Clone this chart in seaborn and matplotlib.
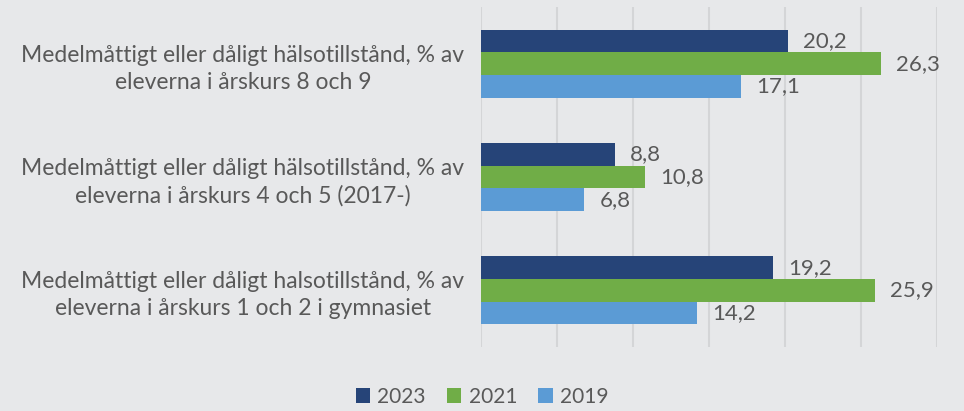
import pandas as pd
import matplotlib.pyplot as plt
import seaborn as sns

categories = [
    "Medelmåttigt eller dåligt hälsotillstånd, % av\neleverna i årskurs 8 och 9",
    "Medelmåttigt eller dåligt hälsotillstånd, % av\neleverna i årskurs 4 och 5 (2017-)",
    "Medelmåttigt eller dåligt halsotillstånd, % av\neleverna i årskurs 1 och 2 i gymnasiet",
]
years = ["2023", "2021", "2019"]
values_2023 = [20.2, 8.8, 19.2]
values_2021 = [26.3, 10.8, 25.9]
values_2019 = [17.1, 6.8, 14.2]
labels_2023 = ["20,2", "8,8", "19,2"]
labels_2021 = ["26,3", "10,8", "25,9"]
labels_2019 = ["17,1", "6,8", "14,2"]

colors = ["#264478", "#70AD47", "#5B9BD5"]
bg = "#e7e8ea"
text_col = "#595959"

rows = []
for yr, vals in zip(years, [values_2023, values_2021, values_2019]):
    for cat, v in zip(categories, vals):
        rows.append({"kategori": cat, "år": yr, "värde": v})
df = pd.DataFrame(rows)

sns.set_style("white")
plt.rcParams["font.family"] = ["Lato", "DejaVu Sans"]

fig = plt.figure(figsize=(9.64, 4.11), dpi=100, facecolor=bg)
ax = fig.add_axes([481 / 964, 1 - 347 / 411, (937 - 481) / 964, (347 - 7) / 411])
ax.set_facecolor(bg)

sns.barplot(data=df, y="kategori", x="värde", hue="år", hue_order=years,
            palette=colors, saturation=1, orient="h", width=0.6, linewidth=0,
            ax=ax, legend=True)

for container, labs in zip(ax.containers, [labels_2023, labels_2021, labels_2019]):
    ax.bar_label(container, labels=labs, padding=11, fontsize=16, color=text_col)

ax.set_xlim(0, 30)
ax.set_xticks(range(0, 31, 5))
ax.set_xticklabels([])
ax.tick_params(axis="both", length=0)
ax.grid(axis="x", color="#d4d5d7", linewidth=1.5)
ax.set_axisbelow(True)
for s in ax.spines.values():
    s.set_visible(False)
ax.set_xlabel("")
ax.set_ylabel("")
for t in ax.get_yticklabels():
    t.set_multialignment("center")
    t.set_fontsize(16.5)
    t.set_color(text_col)
    t.set_linespacing(1.35)
ax.tick_params(axis="y", pad=12)

handles, lbls = ax.get_legend_handles_labels()
ax.get_legend().remove()
fig.legend(handles, lbls, loc="center", bbox_to_anchor=(0.5, 1 - 397 / 411), ncol=3,
           frameon=False, fontsize=15, labelcolor=text_col, handlelength=0.7,
           handleheight=0.7, handletextpad=0.35, columnspacing=1.0)

fig.savefig("out.png", dpi=100, facecolor=bg)
